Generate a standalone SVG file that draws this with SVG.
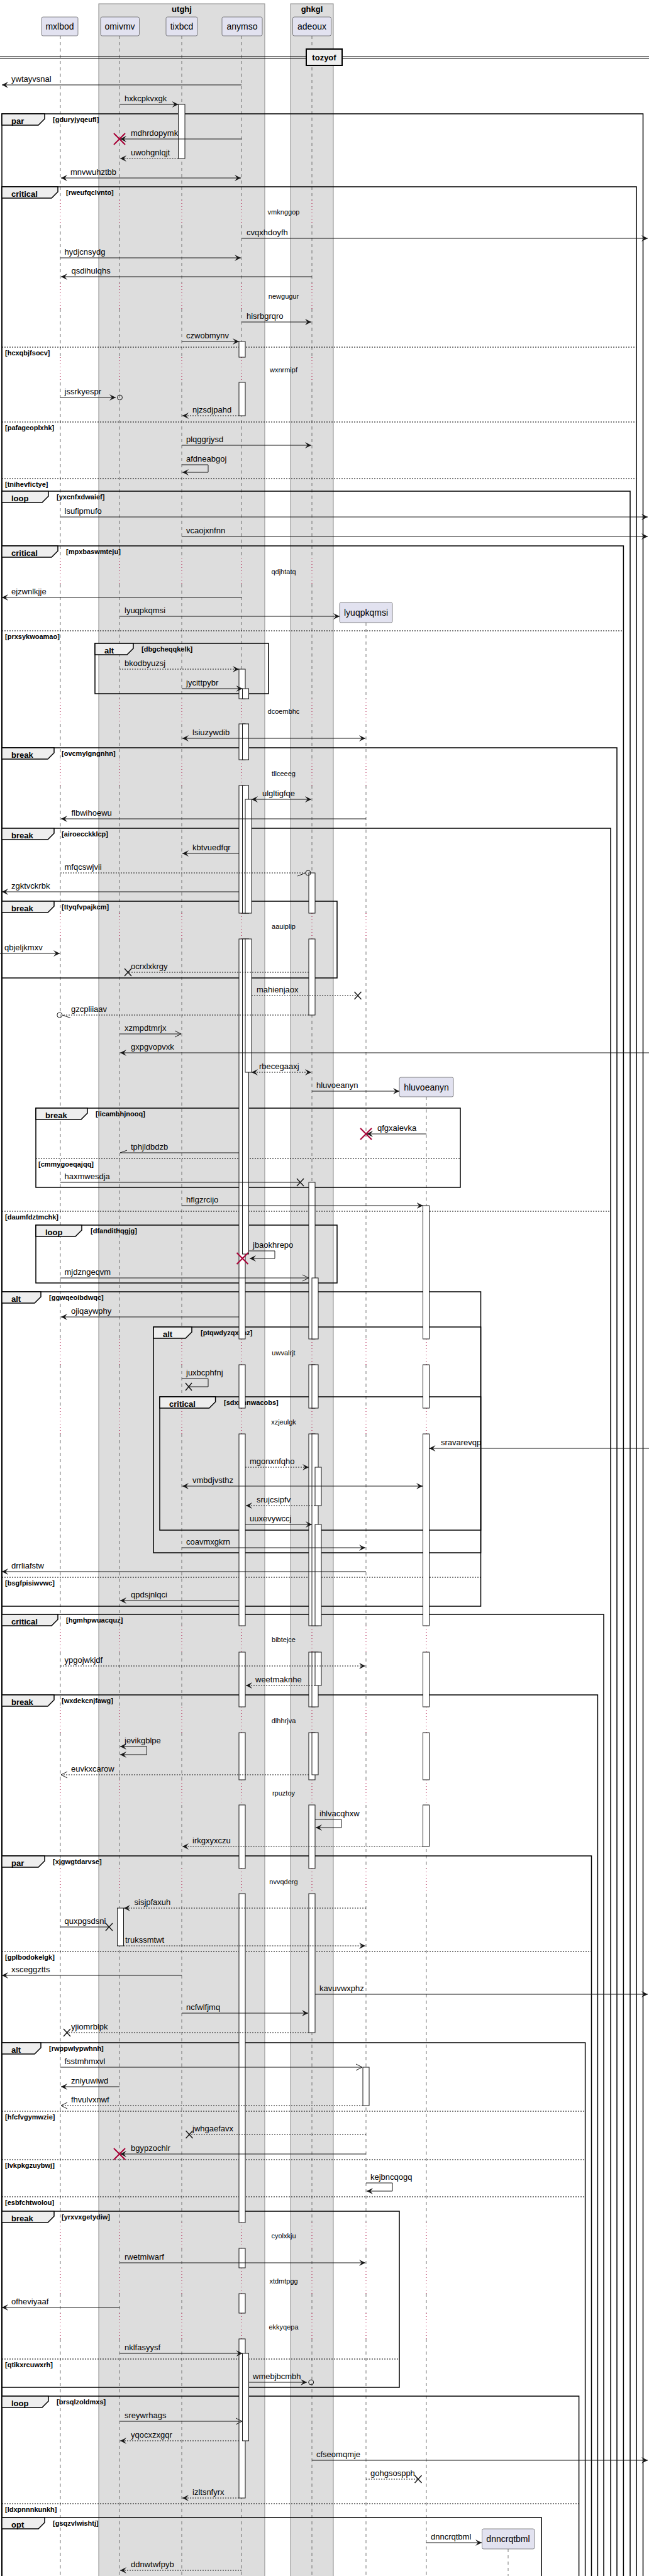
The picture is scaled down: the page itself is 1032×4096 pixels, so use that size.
<svg xmlns="http://www.w3.org/2000/svg" width="1032" height="4096" viewBox="0 0 1032 4096">
<style>
text{font-family:"Liberation Sans",Arial,sans-serif;fill:#000}
.pn{font-size:14px;text-anchor:middle}
.gt{font-size:13px;font-weight:bold;text-anchor:middle}
.t{font-size:13px}
.ft{font-size:13px;font-weight:bold}
.fc{font-size:11px;font-weight:bold}
.dt{font-size:11px;text-anchor:middle}
.pb{fill:#E2E2F0;stroke:#181818;stroke-width:0.5}
.grp{fill:#DDDDDD;stroke:#888888;stroke-width:1}
.ld{fill:none;stroke:#555555;stroke-width:0.8;stroke-dasharray:5,5}
.lt{fill:none;stroke:#A80036;stroke-width:1;stroke-dasharray:1,4}
.fr{fill:none;stroke:#000;stroke-width:1.5}
.tab{fill:#EEEEEE;stroke:#000;stroke-width:1.5}
.el{stroke:#000;stroke-width:1;stroke-dasharray:2,2}
.act{fill:#fff;stroke:#181818;stroke-width:1}
.m{fill:none;stroke:#181818;stroke-width:1}
.d{stroke-dasharray:2,2}
.rx{fill:none;stroke:#A80036;stroke-width:2}
.bx{fill:none;stroke:#181818;stroke-width:1.5}
.ci{fill:none;stroke:#181818;stroke-width:1}
</style>
<defs>
<marker id="fa" viewBox="0 0 10 10" refX="10" refY="5" markerWidth="10" markerHeight="10" markerUnits="userSpaceOnUse" orient="auto-start-reverse"><path d="M0,0 L10,5 L0,10 L4,5 Z" fill="#181818"/></marker>
<marker id="oa" viewBox="0 0 12 12" refX="11" refY="6" markerWidth="12" markerHeight="12" markerUnits="userSpaceOnUse" orient="auto-start-reverse"><path d="M1,1 L11,6 L1,11" fill="none" stroke="#181818" stroke-width="1"/></marker>
<path id="ldA" d="M0,57 V318 M0,358 V450 M0,491 V568 M0,608 V887 M0,929 V1111 M0,1151 V1208 M0,1249 V1452 M0,1493 V2129 M0,2170 V2239 M0,2280 V2585 M0,2627 V2714 M0,2755 V2830 M0,2870 V2971 M0,3011 V3534 M0,3575 V3606 M0,3647 V3678 M0,3719 V4096"/>
<path id="ltA" d="M0,318 V358 M0,450 V491 M0,568 V608 M0,887 V929 M0,1111 V1151 M0,1208 V1249 M0,1452 V1493 M0,2129 V2170 M0,2239 V2280 M0,2585 V2627 M0,2714 V2755 M0,2830 V2870 M0,2971 V3011 M0,3534 V3575 M0,3606 V3647 M0,3678 V3719"/>
<path id="ldB" d="M0,990 V1111 M0,1151 V1208 M0,1249 V1452 M0,1493 V2129 M0,2170 V2239 M0,2280 V2585 M0,2627 V2714 M0,2755 V2830 M0,2870 V2971 M0,3011 V3534 M0,3575 V3606 M0,3647 V3678 M0,3719 V4096"/>
<path id="ltB" d="M0,1111 V1151 M0,1208 V1249 M0,1452 V1493 M0,2129 V2170 M0,2239 V2280 M0,2585 V2627 M0,2714 V2755 M0,2830 V2870 M0,2971 V3011 M0,3534 V3575 M0,3606 V3647 M0,3678 V3719"/>
<path id="ldC" d="M0,1744 V2129 M0,2170 V2239 M0,2280 V2585 M0,2627 V2714 M0,2755 V2830 M0,2870 V2971 M0,3011 V3534 M0,3575 V3606 M0,3647 V3678 M0,3719 V4096"/>
<path id="ltC" d="M0,2129 V2170 M0,2239 V2280 M0,2585 V2627 M0,2714 V2755 M0,2830 V2870 M0,2971 V3011 M0,3534 V3575 M0,3606 V3647 M0,3678 V3719"/>
</defs>
<rect x="0" y="0" width="1032" height="4096" fill="#fff"/>

<g id="box-utghj"><rect class="grp" x="157" y="6" width="264" height="4100"/><text class="gt" x="289" y="19">utghj</text></g>
<g id="box-ghkgl"><rect class="grp" x="462" y="6" width="68" height="4100"/><text class="gt" x="496" y="19">ghkgl</text></g>

<g id="lifelines">
<use href="#ldA" x="96" class="ld"/><use href="#ltA" x="96" class="lt"/>
<use href="#ldA" x="190.5" class="ld"/><use href="#ltA" x="190.5" class="lt"/>
<use href="#ldA" x="289" class="ld"/><use href="#ltA" x="289" class="lt"/>
<use href="#ldA" x="384.5" class="ld"/><use href="#ltA" x="384.5" class="lt"/>
<use href="#ldA" x="496" class="ld"/><use href="#ltA" x="496" class="lt"/>
<use href="#ldB" x="582" class="ld"/><use href="#ltB" x="582" class="lt"/>
<use href="#ldC" x="678" class="ld"/><use href="#ltC" x="678" class="lt"/>
<path class="ld" d="M808,4053 V4096"/>
</g>

<g id="divider-tozyof">
<path d="M0,90 H1032 M0,93 H1032" stroke="#000" stroke-width="1"/>
<rect x="487" y="78" width="57" height="26" fill="#EEEEEE" stroke="#000" stroke-width="2"/>
<text class="ft" x="515.5" y="96" text-anchor="middle">tozyof</text>
</g>

<g id="frames">
<g id="f1"><rect class="fr" x="3" y="181" width="1019.5" height="4019"/><path class="tab" d="M3,181 H71 V189 L61,199 H3 Z"/><text class="ft" x="18" y="196.5">par</text><text class="fc" x="84" y="194">[gduryjyqeufl]</text></g>
<g id="f2"><rect class="fr" x="3" y="297" width="1009" height="3903"/><path class="tab" d="M3,297 H92 V305 L82,315 H3 Z"/><text class="ft" x="18" y="312.5">critical</text><text class="fc" x="105" y="310">[rweufqclvnto]</text>
<line class="el" x1="3" y1="552" x2="1012" y2="552"/><text class="fc" x="8" y="564.5">[hcxqbjfsocv]</text>
<line class="el" x1="3" y1="671" x2="1012" y2="671"/><text class="fc" x="8" y="683.5">[pafageoplxhk]</text>
<line class="el" x1="3" y1="761" x2="1012" y2="761"/><text class="fc" x="8" y="773.5">[tnihevfictye]</text></g>
<g id="f3"><rect class="fr" x="3" y="781" width="999" height="3419"/><path class="tab" d="M3,781 H77 V789 L67,799 H3 Z"/><text class="ft" x="18" y="796.5">loop</text><text class="fc" x="90" y="794">[yxcnfxdwaief]</text></g>
<g id="f4"><rect class="fr" x="3" y="868" width="988.4" height="3332"/><path class="tab" d="M3,868 H92 V876 L82,886 H3 Z"/><text class="ft" x="18" y="883.5">critical</text><text class="fc" x="105" y="881">[mpxbaswmteju]</text>
<line class="el" x1="3" y1="1003" x2="991.4" y2="1003"/><text class="fc" x="8" y="1015.5">[prxsykwoamao]</text></g>
<g id="f5"><rect class="fr" x="151" y="1023" width="276" height="80"/><path class="tab" d="M151,1023 H212 V1031 L202,1041 H151 Z"/><text class="ft" x="166" y="1038.5">alt</text><text class="fc" x="225" y="1036">[dbgcheqqkelk]</text></g>
<g id="f6"><rect class="fr" x="3" y="1189" width="978" height="3011"/><path class="tab" d="M3,1189 H86 V1197 L76,1207 H3 Z"/><text class="ft" x="18" y="1204.5">break</text><text class="fc" x="98" y="1202">[ovcmylgngnhn]</text></g>
<g id="f7"><rect class="fr" x="3" y="1317" width="968" height="2883"/><path class="tab" d="M3,1317 H86 V1325 L76,1335 H3 Z"/><text class="ft" x="18" y="1332.5">break</text><text class="fc" x="98" y="1330">[airoecckklcp]</text>
<line class="el" x1="3" y1="1926" x2="971" y2="1926"/><text class="fc" x="8" y="1938.5">[daumfdztmchk]</text></g>
<g id="f8"><rect class="fr" x="3" y="1433" width="533" height="122"/><path class="tab" d="M3,1433 H86 V1441 L76,1451 H3 Z"/><text class="ft" x="18" y="1448.5">break</text><text class="fc" x="98" y="1446">[ttyqfvpajkcm]</text></g>
<g id="f9"><rect class="fr" x="57" y="1762" width="675" height="126"/><path class="tab" d="M57,1762 H139 V1770 L129,1780 H57 Z"/><text class="ft" x="72" y="1777.5">break</text><text class="fc" x="152" y="1775">[licambhjnooq]</text>
<line class="el" x1="57" y1="1842" x2="732" y2="1842"/><text class="fc" x="61" y="1854.5">[cmmygoeqajqq]</text></g>
<g id="f10"><rect class="fr" x="57" y="1948" width="479" height="92"/><path class="tab" d="M57,1948 H130 V1956 L120,1966 H57 Z"/><text class="ft" x="72" y="1963.5">loop</text><text class="fc" x="144" y="1961">[dfandithqgjg]</text></g>
<g id="f11"><rect class="fr" x="3" y="2054" width="761.5" height="500"/><path class="tab" d="M3,2054 H65 V2062 L55,2072 H3 Z"/><text class="ft" x="18" y="2069.5">alt</text><text class="fc" x="78" y="2067">[ggwqeoibdwqc]</text>
<line class="el" x1="3" y1="2508" x2="764.5" y2="2508"/><text class="fc" x="8" y="2520.5">[bsgfpisiwvwc]</text></g>
<g id="f12"><rect class="fr" x="244" y="2110" width="520.5" height="359"/><path class="tab" d="M244,2110 H305 V2118 L295,2128 H244 Z"/><text class="ft" x="259" y="2125.5">alt</text><text class="fc" x="319" y="2123">[ptqwdyzqxkhz]</text></g>
<g id="f13"><rect class="fr" x="254" y="2221" width="510.5" height="212"/><path class="tab" d="M254,2221 H342.6 V2229 L332.6,2239 H254 Z"/><text class="ft" x="269" y="2236.5">critical</text><text class="fc" x="356" y="2234">[sdxnnnwacobs]</text></g>
<g id="f14"><rect class="fr" x="3" y="2567" width="957" height="1633"/><path class="tab" d="M3,2567 H92 V2575 L82,2585 H3 Z"/><text class="ft" x="18" y="2582.5">critical</text><text class="fc" x="105" y="2580">[hgmhpwuacquz]</text></g>
<g id="f15"><rect class="fr" x="3" y="2695" width="947.4" height="1505"/><path class="tab" d="M3,2695 H86 V2703 L76,2713 H3 Z"/><text class="ft" x="18" y="2710.5">break</text><text class="fc" x="98" y="2708">[wxdekcnjfawg]</text></g>
<g id="f16"><rect class="fr" x="3" y="2951" width="937.5" height="1249"/><path class="tab" d="M3,2951 H71 V2959 L61,2969 H3 Z"/><text class="ft" x="18" y="2966.5">par</text><text class="fc" x="84" y="2964">[xjgwgtdarvse]</text>
<line class="el" x1="3" y1="3103" x2="940.5" y2="3103"/><text class="fc" x="8" y="3115.5">[gplbodokelgk]</text></g>
<g id="f17"><rect class="fr" x="3" y="3248" width="927.6" height="952"/><path class="tab" d="M3,3248 H65 V3256 L55,3266 H3 Z"/><text class="ft" x="18" y="3263.5">alt</text><text class="fc" x="78" y="3261">[rwppwlypwhnh]</text>
<line class="el" x1="3" y1="3357" x2="930.6" y2="3357"/><text class="fc" x="8" y="3369.5">[hfcfvgymwzie]</text>
<line class="el" x1="3" y1="3434" x2="930.6" y2="3434"/><text class="fc" x="8" y="3446.5">[lvkpkgzuybwj]</text>
<line class="el" x1="3" y1="3493" x2="930.6" y2="3493"/><text class="fc" x="8" y="3505.5">[esbfchtwolou]</text></g>
<g id="f18"><rect class="fr" x="3" y="3516" width="632" height="280"/><path class="tab" d="M3,3516 H86 V3524 L76,3534 H3 Z"/><text class="ft" x="18" y="3531.5">break</text><text class="fc" x="98" y="3529">[yrxvxgetydiw]</text>
<line class="el" x1="3" y1="3751" x2="635" y2="3751"/><text class="fc" x="8" y="3763.5">[qtikxrcuwxrh]</text></g>
<g id="f19"><rect class="fr" x="3" y="3810" width="917.6" height="390"/><path class="tab" d="M3,3810 H77 V3818 L67,3828 H3 Z"/><text class="ft" x="18" y="3825.5">loop</text><text class="fc" x="90" y="3823">[brsqlzoldmxs]</text>
<line class="el" x1="3" y1="3981" x2="920.6" y2="3981"/><text class="fc" x="8" y="3993.5">[ldxpnnnkunkh]</text></g>
<g id="f20"><rect class="fr" x="3" y="4003" width="858" height="197"/><path class="tab" d="M3,4003 H71 V4011 L61,4021 H3 Z"/><text class="ft" x="18" y="4018.5">opt</text><text class="fc" x="84" y="4016">[gsqzvlwishtj]</text></g>
</g>

<g id="delays">
<text class="dt" x="451" y="341">vmknggop</text>
<text class="dt" x="451" y="475">newgugur</text>
<text class="dt" x="451" y="592">wxnrmipf</text>
<text class="dt" x="451" y="913">qdjhtatq</text>
<text class="dt" x="451" y="1135">dcoembhc</text>
<text class="dt" x="451" y="1234">tllceeeg</text>
<text class="dt" x="451" y="1477">aauiplip</text>
<text class="dt" x="451" y="2155">uwvalrjt</text>
<text class="dt" x="451" y="2265">xzjeulgk</text>
<text class="dt" x="451" y="2611">bibtejce</text>
<text class="dt" x="451" y="2740">dlhhrjva</text>
<text class="dt" x="451" y="2855">rpuztoy</text>
<text class="dt" x="451" y="2996">nvvqderg</text>
<text class="dt" x="451" y="3559">cyolxkju</text>
<text class="dt" x="451" y="3631">xtdmtpgg</text>
<text class="dt" x="451" y="3704">ekkyqepa</text>
</g>

<g id="activations">
<rect class="act" x="283.5" y="166" width="10.5" height="86"/>
<rect class="act" x="380" y="543" width="10" height="25"/><rect class="act" x="380" y="608" width="10" height="53"/>
<rect class="act" x="380" y="1064" width="10" height="47"/><rect class="act" x="380" y="1151" width="10" height="57"/><rect class="act" x="380" y="1249" width="10" height="203"/><rect class="act" x="380" y="1493" width="10" height="636"/><rect class="act" x="380" y="2170" width="10" height="69"/><rect class="act" x="380" y="2280" width="10" height="305"/><rect class="act" x="380" y="2627" width="10" height="87"/><rect class="act" x="380" y="2755" width="10" height="75"/><rect class="act" x="380" y="2870" width="10" height="101"/><rect class="act" x="380" y="3011" width="10" height="523"/><rect class="act" x="380" y="3575" width="10" height="31"/><rect class="act" x="380" y="3647" width="10" height="31"/><rect class="act" x="380" y="3719" width="10" height="253"/>
<rect class="act" x="385.5" y="1095" width="10" height="16"/><rect class="act" x="385.5" y="1151" width="10" height="57"/><rect class="act" x="385.5" y="1249" width="10" height="203"/><rect class="act" x="385.5" y="1493" width="10" height="501"/>
<rect class="act" x="390" y="1271" width="10" height="181"/><rect class="act" x="390" y="1493" width="10" height="212"/>
<rect class="act" x="385.5" y="3742" width="10" height="139"/>
<rect class="act" x="491" y="1388" width="10" height="64"/><rect class="act" x="491" y="1493" width="10" height="121"/>
<rect class="act" x="491" y="1880" width="10" height="249"/><rect class="act" x="491" y="2170" width="10" height="69"/><rect class="act" x="491" y="2280" width="10" height="305"/><rect class="act" x="491" y="2627" width="10" height="87"/><rect class="act" x="491" y="2755" width="10" height="75"/><rect class="act" x="491" y="2870" width="10" height="101"/><rect class="act" x="491" y="3011" width="10" height="221"/>
<rect class="act" x="496" y="2032" width="10" height="97"/><rect class="act" x="496" y="2170" width="10" height="69"/><rect class="act" x="496" y="2280" width="10" height="305"/><rect class="act" x="496" y="2627" width="10" height="87"/><rect class="act" x="496" y="2755" width="10" height="67"/>
<rect class="act" x="501" y="2333" width="10" height="61"/>
<rect class="act" x="501" y="2424" width="10" height="161"/><rect class="act" x="501" y="2627" width="10" height="53"/>
<rect class="act" x="672.5" y="1917" width="10" height="212"/><rect class="act" x="672.5" y="2170" width="10" height="69"/><rect class="act" x="672.5" y="2280" width="10" height="305"/><rect class="act" x="672.5" y="2627" width="10" height="87"/><rect class="act" x="672.5" y="2755" width="10" height="75"/><rect class="act" x="672.5" y="2870" width="10" height="66"/>
<rect class="act" x="186.5" y="3034" width="10" height="60"/>
<rect class="act" x="577" y="3287" width="10" height="61"/>
</g>

<g id="connectors">
<line class="m" x1="384" y1="135" x2="3" y2="135" marker-end="url(#fa)"/><text class="t" x="18" y="130">ywtayvsnal</text>
<line class="m" x1="190" y1="166" x2="283.5" y2="166" marker-end="url(#fa)"/><text class="t" x="198" y="161">hxkcpkvxgk</text>
<line class="m" x1="384" y1="221" x2="191" y2="221" marker-end="url(#fa)"/><text class="t" x="208" y="216">mdhrdopymk</text>
<path class="rx" d="M181,212 L199,230 M199,212 L181,230"/>
<line class="m d" x1="283.5" y1="252" x2="191" y2="252" marker-end="url(#fa)"/><text class="t" x="208" y="247">uwohgnlqjt</text>
<line class="m" x1="97" y1="283" x2="383" y2="283" marker-start="url(#fa)" marker-end="url(#fa)"/><text class="t" x="112" y="278">mnvwuhztbb</text>
<line class="m" x1="384" y1="379" x2="1030" y2="379" marker-end="url(#fa)"/><text class="t" x="392" y="374">cvqxhdoyfh</text>
<line class="m" x1="96" y1="410" x2="383" y2="410" marker-end="url(#fa)"/><text class="t" x="102.5" y="405">hydjcnsydg</text>
<line class="m" x1="496" y1="440" x2="97" y2="440" marker-end="url(#fa)"/><text class="t" x="113.5" y="435">qsdihulqhs</text>
<line class="m" x1="384" y1="512" x2="495" y2="512" marker-end="url(#fa)"/><text class="t" x="392" y="507">hisrbgrqro</text>
<line class="m" x1="289" y1="543" x2="380" y2="543" marker-end="url(#fa)"/><text class="t" x="296" y="538">czwobmynv</text>
<line class="m" x1="96" y1="632" x2="184" y2="632" marker-end="url(#fa)"/><circle class="ci" cx="190.5" cy="632" r="4"/><text class="t" x="102.5" y="627">jssrkyespr</text>
<line class="m d" x1="380" y1="661" x2="290" y2="661" marker-end="url(#fa)"/><text class="t" x="306" y="656">njzsdjpahd</text>
<line class="m" x1="289" y1="708" x2="495" y2="708" marker-end="url(#fa)"/><text class="t" x="296" y="703">plqggrjysd</text>
<path class="m" d="M289,739 H331 V751 H290" marker-end="url(#fa)"/><text class="t" x="296" y="734">afdneabgoj</text>
<line class="m" x1="96" y1="822" x2="1030" y2="822" marker-end="url(#fa)"/><text class="t" x="102.5" y="817">lsufipmufo</text>
<line class="m" x1="289" y1="853" x2="1030" y2="853" marker-end="url(#fa)"/><text class="t" x="296" y="848">vcaojxnfnn</text>
<line class="m" x1="384" y1="950" x2="3" y2="950" marker-end="url(#fa)"/><text class="t" x="18" y="945">ejzwnlkjje</text>
<line class="m" x1="190" y1="980" x2="540" y2="980" marker-end="url(#fa)"/><text class="t" x="198" y="975">lyuqpkqmsi</text>
<line class="m d" x1="190" y1="1064" x2="380" y2="1064" marker-end="url(#fa)"/><text class="t" x="198" y="1059">bkodbyuzsj</text>
<line class="m" x1="289" y1="1095" x2="385.5" y2="1095" marker-end="url(#fa)"/><text class="t" x="296" y="1090">jycittpybr</text>
<line class="m" x1="290" y1="1174" x2="581" y2="1174" marker-start="url(#fa)" marker-end="url(#fa)"/><text class="t" x="306" y="1169">lsiuzywdib</text>
<line class="m" x1="400" y1="1271" x2="495" y2="1271" marker-start="url(#fa)" marker-end="url(#fa)"/><text class="t" x="417" y="1266">ulgltigfqe</text>
<line class="m" x1="582" y1="1302" x2="97" y2="1302" marker-end="url(#fa)"/><text class="t" x="113.5" y="1297">flbwihoewu</text>
<line class="m" x1="380" y1="1357" x2="290" y2="1357" marker-end="url(#fa)"/><text class="t" x="306" y="1352">kbtvuedfqr</text>
<line class="m d" x1="96" y1="1388" x2="486" y2="1388"/><path class="m" d="M473,1393 L486,1388"/><circle class="ci" cx="490" cy="1388" r="4"/><text class="t" x="102.5" y="1383">mfqcswjvii</text>
<line class="m" x1="380" y1="1418" x2="3" y2="1418" marker-end="url(#fa)"/><text class="t" x="18" y="1413">zgktvckrbk</text>
<line class="m" x1="0" y1="1516" x2="95" y2="1516" marker-end="url(#fa)"/><text class="t" x="7" y="1511">qbjeljkmxv</text>
<line class="m d" x1="491" y1="1546" x2="203.5" y2="1546"/><path class="bx" d="M198,1540 L209,1552 M209,1540 L198,1552"/><text class="t" x="208" y="1541">ocrxlxkrgy</text>
<line class="m d" x1="400" y1="1583" x2="569" y2="1583"/><path class="bx" d="M563.5,1577 L574.5,1589 M574.5,1577 L563.5,1589"/><text class="t" x="408" y="1578">mahienjaox</text>
<line class="m d" x1="491" y1="1614" x2="99" y2="1614"/><path class="m" d="M99,1614 L112,1618.5"/><circle class="ci" cx="94.8" cy="1614" r="4"/><text class="t" x="113" y="1609">gzcpliiaav</text>
<line class="m" x1="190" y1="1644" x2="288" y2="1644" marker-end="url(#oa)"/><text class="t" x="198" y="1639">xzmpdtmrjx</text>
<line class="m" x1="1032" y1="1674" x2="191" y2="1674" marker-end="url(#fa)"/><text class="t" x="208" y="1669">gxpgvopvxk</text>
<line class="m d" x1="400" y1="1705" x2="495" y2="1705" marker-start="url(#fa)" marker-end="url(#fa)"/><text class="t" x="412" y="1700">rbecegaaxj</text>
<line class="m" x1="496" y1="1735" x2="635" y2="1735" marker-end="url(#fa)"/><text class="t" x="503" y="1730">hluvoeanyn</text>
<line class="m" x1="678" y1="1803" x2="583" y2="1803" marker-end="url(#fa)"/><path class="rx" d="M573,1794 L591,1812 M591,1794 L573,1812"/><text class="t" x="600" y="1798">qfgxaievka</text>
<line class="m" x1="380" y1="1833" x2="191" y2="1833"/><path class="m" d="M191,1833 L202,1829"/><text class="t" x="208" y="1828">tphjldbdzb</text>
<line class="m" x1="96" y1="1880" x2="477.5" y2="1880"/><path class="bx" d="M472,1874 L483,1886 M483,1874 L472,1886"/><text class="t" x="102.5" y="1875">haxmwesdja</text>
<line class="m" x1="289" y1="1917" x2="672.5" y2="1917" marker-end="url(#fa)"/><text class="t" x="296" y="1912">hflgzrcijo</text>
<path class="m" d="M395.5,1989 H437 V2001 H397" marker-end="url(#fa)"/><path class="rx" d="M376.5,1992 L394.5,2010 M394.5,1992 L376.5,2010"/><text class="t" x="402" y="1984">jbaokhrepo</text>
<line class="m" x1="96" y1="2032" x2="491" y2="2032" marker-end="url(#oa)"/><text class="t" x="102.5" y="2027">mjdzngeqvm</text>
<line class="m" x1="380" y1="2094" x2="97" y2="2094" marker-end="url(#fa)"/><text class="t" x="113" y="2089">ojiqaywphy</text>
<path class="m" d="M289,2192 H331 V2205 H300"/><path class="bx" d="M295,2199 L305,2211 M305,2199 L295,2211"/><text class="t" x="296" y="2187">juxbcphfnj</text>
<line class="m" x1="1032" y1="2303" x2="682.5" y2="2303" marker-end="url(#fa)"/><text class="t" x="701" y="2298">sravarevqp</text>
<line class="m d" x1="390" y1="2333" x2="491" y2="2333" marker-end="url(#fa)"/><text class="t" x="397" y="2328">mgonxnfqho</text>
<line class="m" x1="290" y1="2363" x2="672" y2="2363" marker-start="url(#fa)" marker-end="url(#fa)"/><text class="t" x="306" y="2358">vmbdjvsthz</text>
<line class="m d" x1="501" y1="2394" x2="391" y2="2394" marker-end="url(#fa)"/><text class="t" x="408" y="2389">srujcsipfv</text>
<line class="m" x1="390" y1="2424" x2="496" y2="2424" marker-end="url(#fa)"/><text class="t" x="397" y="2419">uuxevywccj</text>
<line class="m" x1="289" y1="2461" x2="581" y2="2461" marker-end="url(#fa)"/><text class="t" x="296" y="2456">coavmxgkrn</text>
<line class="m" x1="582" y1="2499" x2="3" y2="2499" marker-end="url(#fa)"/><text class="t" x="18" y="2494">drrliafstw</text>
<line class="m" x1="380" y1="2545" x2="191" y2="2545" marker-end="url(#fa)"/><text class="t" x="208" y="2540">qpdsjnlqci</text>
<line class="m d" x1="96" y1="2649" x2="581" y2="2649" marker-end="url(#fa)"/><text class="t" x="102.5" y="2644">ypgojwkjdf</text>
<line class="m d" x1="501" y1="2680" x2="391" y2="2680" marker-end="url(#fa)"/><text class="t" x="406" y="2675">weetmaknhe</text>
<path class="m" d="M191,2777 H233.5 V2790 H191" marker-start="url(#fa)" marker-end="url(#fa)"/><text class="t" x="198" y="2772">jevikgblpe</text>
<line class="m d" x1="491" y1="2822" x2="97" y2="2822" marker-end="url(#oa)"/><text class="t" x="113" y="2817">euvkxcarow</text>
<path class="m" d="M501,2893 H543 V2906 H502" marker-end="url(#fa)"/><text class="t" x="508" y="2888">ihlvacqhxw</text>
<line class="m d" x1="672.5" y1="2936" x2="290" y2="2936" marker-end="url(#fa)"/><text class="t" x="306" y="2931">irkgxyxczu</text>
<line class="m d" x1="582" y1="3034" x2="197" y2="3034" marker-end="url(#fa)"/><text class="t" x="213.5" y="3029">sisjpfaxuh</text>
<line class="m" x1="96" y1="3064" x2="173.5" y2="3064"/><path class="bx" d="M168,3058 L179,3070 M179,3058 L168,3070"/><text class="t" x="102.5" y="3059">quxpgsdsni</text>
<line class="m d" x1="196.5" y1="3094" x2="581" y2="3094" marker-end="url(#fa)"/><text class="t" x="199" y="3089">trukssmtwt</text>
<line class="m" x1="289" y1="3141" x2="3" y2="3141" marker-end="url(#fa)"/><text class="t" x="18" y="3136">xsceggztts</text>
<line class="m" x1="501" y1="3171" x2="1030" y2="3171" marker-end="url(#fa)"/><text class="t" x="508" y="3166">kavuvwxphz</text>
<line class="m" x1="289" y1="3201" x2="490" y2="3201" marker-end="url(#fa)"/><text class="t" x="296" y="3196">ncfwlfjmq</text>
<line class="m d" x1="491" y1="3232" x2="106.5" y2="3232"/><path class="bx" d="M101,3226 L112,3238 M112,3226 L101,3238"/><text class="t" x="113" y="3227">yjiomrblpk</text>
<line class="m" x1="96" y1="3287" x2="576" y2="3287" marker-end="url(#oa)"/><text class="t" x="102.5" y="3282">fsstmhmxvl</text>
<line class="m" x1="190" y1="3318" x2="97" y2="3318" marker-end="url(#fa)"/><text class="t" x="113" y="3313">zniyuwiwd</text>
<line class="m d" x1="577" y1="3348" x2="97" y2="3348" marker-end="url(#oa)"/><text class="t" x="113" y="3343">fhvulvxnwf</text>
<line class="m d" x1="582" y1="3394" x2="301" y2="3394"/><path class="bx" d="M295.5,3388 L306.5,3400 M306.5,3388 L295.5,3400"/><text class="t" x="306" y="3389">jwhgaefavx</text>
<line class="m" x1="582" y1="3425" x2="191" y2="3425" marker-end="url(#fa)"/><path class="rx" d="M181,3416 L199,3434 M199,3416 L181,3434"/><text class="t" x="208" y="3420">bgypzochlr</text>
<path class="m" d="M582,3471 H624 V3484 H583" marker-end="url(#fa)"/><text class="t" x="589" y="3466">kejbncqogq</text>
<line class="m" x1="190" y1="3598" x2="581" y2="3598" marker-end="url(#fa)"/><text class="t" x="198" y="3593">rwetmiwarf</text>
<line class="m" x1="190" y1="3669" x2="3" y2="3669" marker-end="url(#fa)"/><text class="t" x="18" y="3664">ofheviyaaf</text>
<line class="m" x1="190" y1="3742" x2="385.5" y2="3742" marker-end="url(#fa)"/><text class="t" x="198" y="3737">nklfasyysf</text>
<line class="m" x1="395.5" y1="3788" x2="488" y2="3788" marker-end="url(#fa)"/><circle class="ci" cx="494.7" cy="3788" r="4"/><text class="t" x="402" y="3783">wmebjbcmbh</text>
<line class="m" x1="190" y1="3850" x2="385" y2="3850" marker-end="url(#oa)"/><text class="t" x="198" y="3845">sreywrhags</text>
<line class="m d" x1="380" y1="3881" x2="191" y2="3881" marker-end="url(#fa)"/><text class="t" x="208" y="3876">yqocxzxgqr</text>
<line class="m" x1="496" y1="3912" x2="1030" y2="3912" marker-end="url(#fa)"/><text class="t" x="503" y="3907">cfseomqmje</text>
<line class="m d" x1="582" y1="3942" x2="665" y2="3942"/><path class="bx" d="M659.5,3936 L670.5,3948 M670.5,3936 L659.5,3948"/><text class="t" x="589" y="3937">gohgsospph</text>
<line class="m d" x1="380" y1="3972" x2="290" y2="3972" marker-end="url(#fa)"/><text class="t" x="306" y="3967">izltsnfyrx</text>
<line class="m" x1="678" y1="4043" x2="766" y2="4043" marker-end="url(#fa)"/><text class="t" x="685" y="4038">dnncrqtbml</text>
<line class="m d" x1="384" y1="4087" x2="191" y2="4087" marker-end="url(#fa)"/><text class="t" x="208" y="4082">ddnwtwfpyb</text>
</g>

<g id="p-mxlbod"><rect class="pb" x="66" y="27" width="58" height="30" rx="2.5"/><text class="pn" x="95" y="47">mxlbod</text></g>
<g id="p-omivmv"><rect class="pb" x="160" y="27" width="61.5" height="30" rx="2.5"/><text class="pn" x="190.5" y="47">omivmv</text></g>
<g id="p-tixbcd"><rect class="pb" x="264" y="27" width="50" height="30" rx="2.5"/><text class="pn" x="289" y="47">tixbcd</text></g>
<g id="p-anymso"><rect class="pb" x="353" y="27" width="64" height="30" rx="2.5"/><text class="pn" x="385" y="47">anymso</text></g>
<g id="p-adeoux"><rect class="pb" x="465.5" y="27" width="61" height="30" rx="2.5"/><text class="pn" x="496" y="47">adeoux</text></g>
<g id="p-lyuqpkqmsi"><rect class="pb" x="540" y="958" width="84" height="32" rx="2.5"/><text class="pn" x="582" y="979">lyuqpkqmsi</text></g>
<g id="p-hluvoeanyn"><rect class="pb" x="635" y="1713" width="86" height="31" rx="2.5"/><text class="pn" x="678" y="1734">hluvoeanyn</text></g>
<g id="p-dnncrqtbml"><rect class="pb" x="766.5" y="4021" width="83.5" height="32" rx="2.5"/><text class="pn" x="808" y="4042">dnncrqtbml</text></g>
</svg>
